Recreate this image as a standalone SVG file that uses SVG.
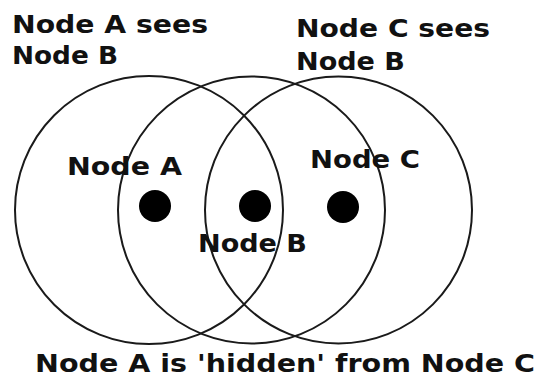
<svg xmlns="http://www.w3.org/2000/svg" width="540" height="377" viewBox="0 0 540 377">
<style>
.ring{fill:none;stroke:#1a1a1a;stroke-width:2}
.dot{fill:#000}
text{font-family:"DejaVu Sans","Verdana",sans-serif;font-weight:bold;font-size:25px;fill:#111}
</style>
<rect width="540" height="377" fill="#fff"/>
<g id="ranges">
<circle class="ring" cx="149" cy="210" r="134"/>
<circle class="ring" cx="251.5" cy="210" r="133.5"/>
<circle class="ring" cx="338.5" cy="210" r="133.5"/>
</g>
<g id="nodeA">
<circle class="dot" cx="155" cy="206" r="16"/>
<text x="67" y="175" textLength="115" lengthAdjust="spacingAndGlyphs">Node A</text>
</g>
<g id="nodeB">
<circle class="dot" cx="255" cy="206" r="16"/>
<text x="198" y="252" textLength="109" lengthAdjust="spacingAndGlyphs">Node B</text>
</g>
<g id="nodeC">
<circle class="dot" cx="343" cy="207" r="16"/>
<text x="310" y="168" textLength="110" lengthAdjust="spacingAndGlyphs">Node C</text>
</g>
<g id="labels">
<text x="12" y="33" textLength="196" lengthAdjust="spacingAndGlyphs">Node A sees</text>
<text x="12" y="64" textLength="106" lengthAdjust="spacingAndGlyphs">Node B</text>
<text x="296" y="37" textLength="194" lengthAdjust="spacingAndGlyphs">Node C sees</text>
<text x="296" y="70" textLength="109" lengthAdjust="spacingAndGlyphs">Node B</text>
<text x="35" y="372" textLength="500" lengthAdjust="spacingAndGlyphs">Node A is 'hidden' from Node C</text>
</g>
</svg>
